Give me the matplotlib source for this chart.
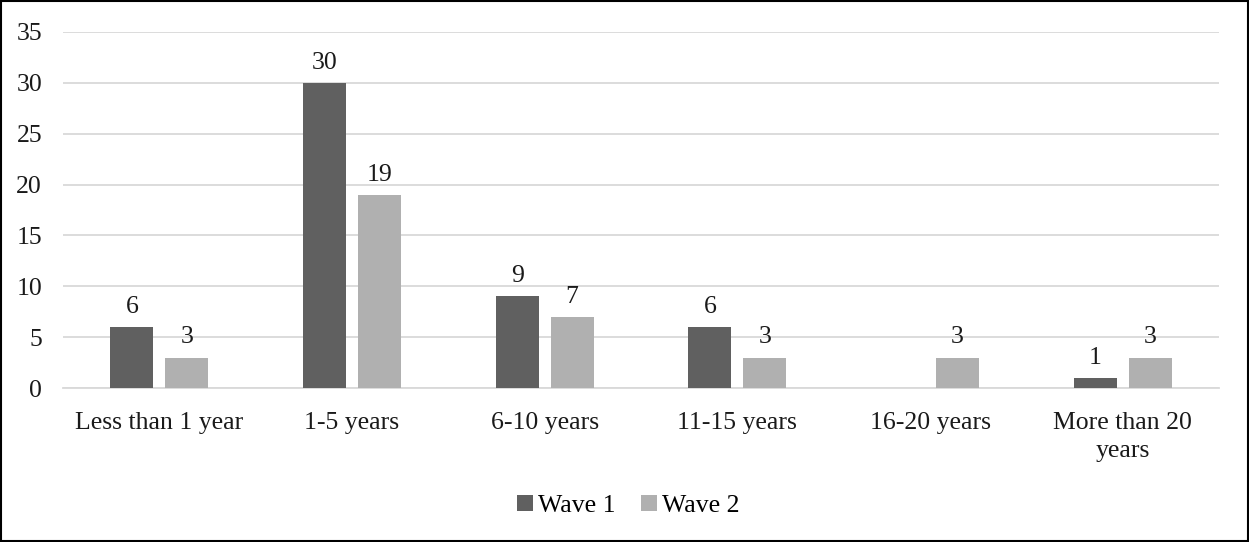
import numpy as np
import matplotlib.pyplot as plt
from matplotlib.patches import Rectangle

# Years of experience, counts per survey wave
categories = ['Less than 1 year', '1-5 years', '6-10 years', '11-15 years',
              '16-20 years', 'More than 20\nyears']
wave1 = [6, 30, 9, 6, 0, 1]
wave2 = [3, 19, 7, 3, 3, 3]
yticks = [0, 5, 10, 15, 20, 25, 30, 35]

plt.rcParams['font.family'] = ['Liberation Serif', 'DejaVu Serif']
fs = 18.5

fig = plt.figure(figsize=(12.49, 5.42), dpi=100)
ax = fig.add_axes([0.0504, 0.2841, 0.9256, 0.6569])

x = np.arange(len(categories))
w = 0.223
off = (w + 0.062) / 2
b1 = ax.bar(x - off, wave1, w, color='#606060', label='Wave 1', zorder=3)
b2 = ax.bar(x + off, wave2, w, color='#b0b0b0', label='Wave 2', zorder=3)

# value labels, skip empty bars
for bars, vals in ((b1, wave1), (b2, wave2)):
    for rect, v in zip(bars, vals):
        if v == 0:
            continue
        ax.annotate(str(v), (rect.get_x() + rect.get_width() / 2, v),
                    xytext=(0, 6.5), textcoords='offset points',
                    ha='center', va='bottom', fontsize=fs, color='#1a1a1a')

ax.set_xlim(-0.5, len(categories) - 0.5)
ax.set_ylim(0, 35)
ax.set_yticks(yticks)
ax.set_xticks(x)
ax.set_xticklabels(categories, fontsize=fs, color='#1a1a1a', linespacing=1.4)
ax.tick_params(axis='y', labelsize=fs, labelcolor='#1a1a1a', length=0, pad=15)
ax.tick_params(axis='x', length=0, pad=17)

ax.grid(axis='y', color='#d9d9d9', linewidth=1.3, zorder=0)
for s in ['top', 'right', 'left']:
    ax.spines[s].set_visible(False)
ax.spines['bottom'].set_color('#d9d9d9')
ax.spines['bottom'].set_linewidth(1.3)

fig.legend(loc='center', bbox_to_anchor=(0.503, 0.067), ncol=2, frameon=False,
           fontsize=fs, handlelength=0.6, handleheight=0.6,
           handletextpad=0.2, columnspacing=1.0)

# outer frame
fig.patches.append(Rectangle((0.001, 0.001), 0.998, 0.997, transform=fig.transFigure,
                             fill=False, edgecolor='black', linewidth=1.5))

fig.savefig('out.png', dpi=100)
